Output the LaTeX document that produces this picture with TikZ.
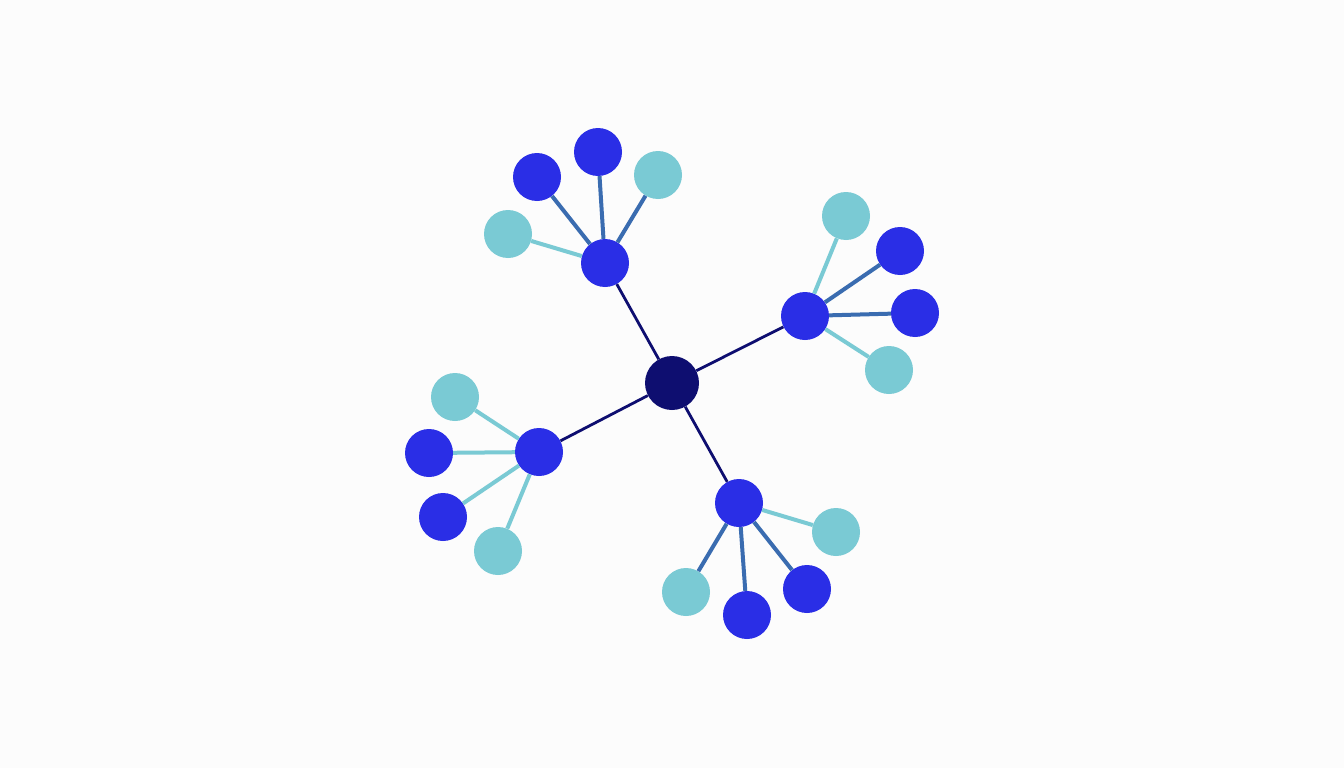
\documentclass[tikz,border=0pt]{standalone}
\usepackage{tikz}

\definecolor{navy}{RGB}{14,14,112}
\definecolor{hubblue}{RGB}{42,46,230}
\definecolor{leafteal}{RGB}{122,202,212}
\definecolor{steel}{RGB}{58,108,176}
\definecolor{paper}{RGB}{252,252,252}

\begin{document}
\begin{tikzpicture}[x=1pt,y=-1pt,
		dot/.style={circle,inner sep=0pt,minimum size=48pt},
		rootdot/.style={dot,fill=navy,minimum size=54pt},
		bluedot/.style={dot,fill=hubblue},
		tealdot/.style={dot,fill=leafteal},
		trunk/.style={draw=navy,line width=2.8pt},
		twig/.style={draw=steel,line width=4pt},
		pale/.style={draw=leafteal,line width=4pt}]
		\fill[paper] (0,0) rectangle (1344,768);
		\useasboundingbox (0,0) rectangle (1344,768);
		% root and hubs
		\node[rootdot] (r) at (672,383) {};
		\node[bluedot] (n) at (605,263) {};
		\node[bluedot] (e) at (805,316) {};
		\node[bluedot] (w) at (539,452) {};
		\node[bluedot] (s) at (739,503) {};
		% leaves
		\node[tealdot] (n1) at (508,234) {};
		\node[bluedot] (n2) at (537,177) {};
		\node[bluedot] (n3) at (598,152) {};
		\node[tealdot] (n4) at (658,175) {};
		\node[tealdot] (e1) at (846,216) {};
		\node[bluedot] (e2) at (900,251) {};
		\node[bluedot] (e3) at (915,313) {};
		\node[tealdot] (e4) at (889,370) {};
		\node[tealdot] (w1) at (455,397) {};
		\node[bluedot] (w2) at (429,453) {};
		\node[bluedot] (w3) at (443,517) {};
		\node[tealdot] (w4) at (498,551) {};
		\node[tealdot] (s1) at (836,532) {};
		\node[bluedot] (s2) at (807,589) {};
		\node[bluedot] (s3) at (747,615) {};
		\node[tealdot] (s4) at (686,592) {};
		\path
		(r) edge[trunk] (n)
		(r) edge[trunk] (e)
		(r) edge[trunk] (w)
		(r) edge[trunk] (s)
		(n) edge[pale] (n1)
		(n) edge[twig] (n2)
		(n) edge[twig] (n3)
		(n) edge[twig] (n4)
		(e) edge[pale] (e1)
		(e) edge[twig] (e2)
		(e) edge[twig] (e3)
		(e) edge[pale] (e4)
		(w) edge[pale] (w1)
		(w) edge[pale] (w2)
		(w) edge[pale] (w3)
		(w) edge[pale] (w4)
		(s) edge[pale] (s1)
		(s) edge[twig] (s2)
		(s) edge[twig] (s3)
		(s) edge[twig] (s4);
	\end{tikzpicture}
\end{document}
